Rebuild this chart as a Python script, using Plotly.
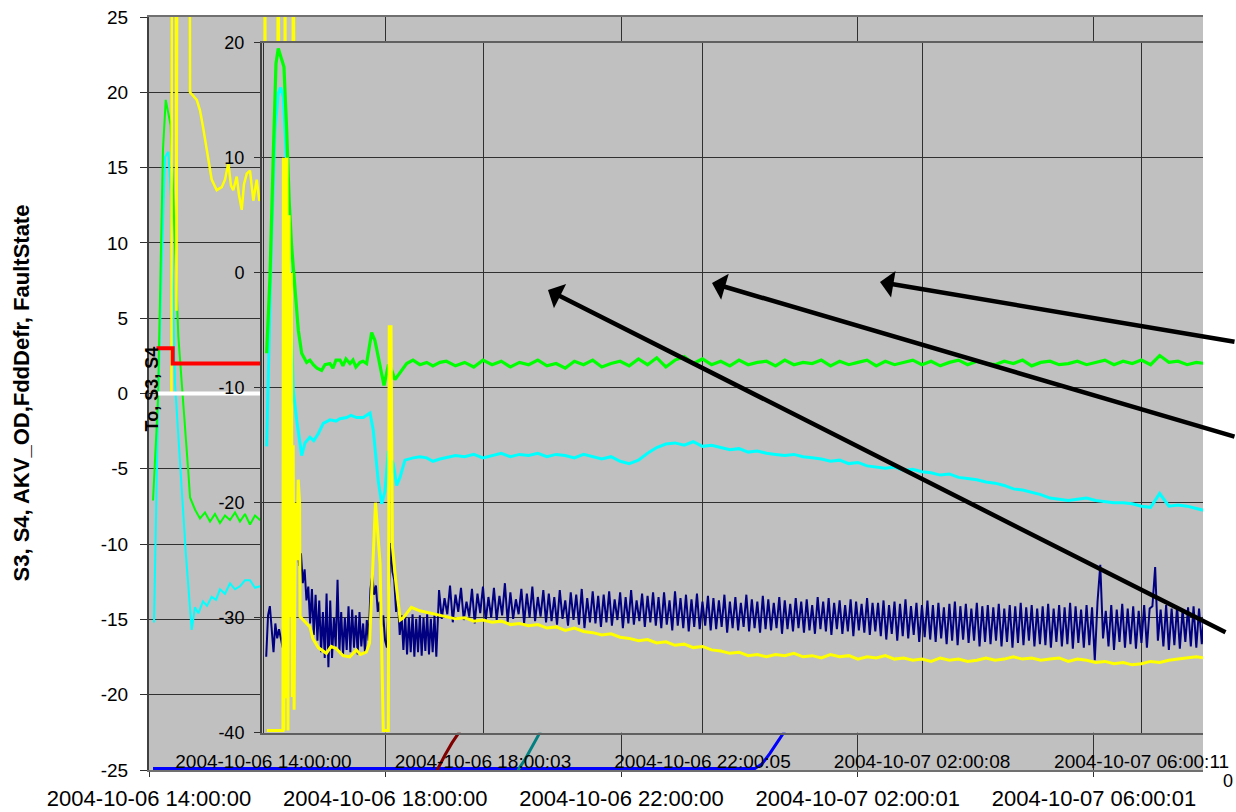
import pandas as pd
import plotly.graph_objects as go

BASE = pd.Timestamp("2004-10-06 14:00:00")


def at(minutes):
    return [BASE + pd.Timedelta(minutes=float(m)) for m in minutes]


# ---------------- outer chart (S3, S4, AKV_OD, FddDefr, FaultState) ----------------
outer_x_tick_min = [0, 240, 480, 720.0167, 960.0167]
outer_x_tick_labels = ["2004-10-06 14:00:00", "2004-10-06 18:00:00", "2004-10-06 22:00:00",
                       "2004-10-07 02:00:01", "2004-10-07 06:00:01"]
outer_y_ticks = [-25, -20, -15, -10, -5, 0, 5, 10, 15, 20, 25]

outer_green_min = [4.1, 9.1, 14.2, 17.0, 22.0, 28.1, 29.8, 39.6, 41.7, 46.7, 51.8, 56.9, 62.0, 67.0,
                   72.1, 77.2, 82.3, 87.4, 92.4, 97.5, 102.6, 107.7, 112.8, 117.8]
outer_green = [-7.1, -0.4, 16.2, 19.5, 17.8, 6.2, 3.8, -4.9, -6.9, -7.7, -8.3, -7.9, -8.5, -8.0,
               -8.6, -8.1, -8.4, -7.9, -8.5, -8.0, -8.7, -8.1, -8.4, -8.2]

outer_cyan_min = [5.1, 9.4, 13.2, 16.3, 19.6, 22.4, 26.4, 31.5, 37.6, 43.4, 46.7, 50.1, 54.9, 58.9,
                  63.7, 68.1, 72.1, 77.2, 82.3, 87.4, 92.4, 97.5, 102.6, 107.7, 112.8, 117.8]
outer_cyan = [-15.2, -0.4, 9.0, 15.7, 16.05, 13.0, 0.7, -4.9, -10.8, -15.7, -14.2, -14.6, -13.8, -14.1,
              -13.5, -13.7, -13.0, -13.3, -12.6, -13.0, -12.8, -12.4, -12.4, -12.9, -12.8, -12.6]

outer_yellow_min = [9.4, 22.8, 23.4, 26.9, 27.9, 29.0, 41.1, 41.7, 48.5, 51.8, 54.9, 59.9, 63.7, 68.8,
                    73.9, 77.2, 80.6, 83.3, 85.6, 89.1, 91.4, 94.2, 96.5, 99.3, 102.6, 106.0, 109.4,
                    112.1, 114.8, 117.3, 117.8, 118.4, 130.5, 131.0, 132.6, 137.7, 138.2, 138.8,
                    145.9, 146.4, 147.9, 153.4]
outer_yellow = [0, 0, 40, 40, 5.5, 40, 40, 20.0, 19.5, 18.8, 17.7, 15.7, 14.2, 13.5,
                13.7, 14.2, 15.3, 13.8, 13.5, 14.4, 13.2, 12.2, 13.9, 14.6, 14.8, 12.8, 14.2,
                12.8, 13.3, 13.2, 40, 13, 13, 40, 13, 13, 40, 13,
                13, 40, 13, 13]

outer_red_min = [7.6, 24.1, 117.8]
outer_red = [3, 2, 2]

outer_white_min = [9.1, 117.8]
outer_white = [0, 0]

outer_blue_min = [4.1, 615.6, 622.7, 630.8, 638.9, 646.1, 661.3]
outer_blue = [-24.9, -24.9, -24.6, -23.9, -23.1, -22.4, -20.6]

outer_darkred_min = [280.4, 293.6, 300.7, 307.8, 316.0, 326.1]
outer_darkred = [-27.0, -24.9, -24.0, -23.2, -22.4, -21.3]

outer_teal_min = [361.7, 375.9, 382.0, 389.1, 397.2, 407.4]
outer_teal = [-27.0, -24.9, -24.3, -23.5, -22.5, -21.3]

# ---------------- inner chart (To, S3, S4) ----------------
inner_x_tick_min = [0, 240.05, 480.0833, 720.1333, 960.1833]
inner_x_tick_labels = ["2004-10-06 14:00:00", "2004-10-06 18:00:03", "2004-10-06 22:00:05",
                       "2004-10-07 02:00:08", "2004-10-07 06:00:11"]
inner_y_ticks = [-40, -30, -20, -10, 0, 10, 20]

inner_green_min_early = [3.5, 7.1, 10.7, 13.7, 16.2, 19.9, 22.4, 25.4, 28.2, 30.8, 34.4, 38.1, 41.8,
                         47.2, 50.8, 54.5, 58.5, 63.6, 67.3, 72.7, 76.0, 79.3, 83.7, 86.9, 90.2, 94.6,
                         97.9, 101.1, 105.5, 108.8, 112.8, 118.3, 121.9, 127.4, 131.8, 136.7, 139.4,
                         143.8, 149.3, 156.6, 163.5, 171.1, 178.5, 185.3, 193.0]
inner_green_early = [-7.0, -0.4, 10.1, 18.2, 19.5, 18.5, 17.9, 12.4, 6.1, 2.3, -1.5, -5.0, -7.0,
                     -7.8, -7.6, -8.0, -8.3, -8.5, -8.0, -7.9, -8.3, -7.6, -7.6, -8.1, -7.5, -7.9,
                     -7.6, -8.2, -7.8, -7.7, -7.9, -5.2, -5.9, -7.9, -9.8, -8.0, -8.3,
                     -9.3, -8.7, -7.9, -7.6, -8.0, -7.8, -8.1, -7.8]

inner_cyan_min_early = [3.5, 5.2, 8.5, 12.6, 16.2, 18.8, 21.7, 24.6, 28.5, 32.6, 36.3, 41.8, 45.4,
                        50.8, 55.0, 59.9, 65.4, 72.7, 79.3, 83.7, 91.0, 95.7, 101.9, 109.1, 116.5,
                        120.1, 125.5, 129.3, 132.9, 136.5, 141.9, 145.7, 149.3, 154.7, 163.8, 171.1,
                        178.5, 185.3, 193.0]
inner_cyan_early = [-15.1, -9.3, 2.0, 12.4, 15.6, 16.1, 15.3, 10.9, 0.0, -10.2, -12.8, -15.9, -14.8,
                    -14.3, -14.6, -14.0, -13.1, -12.8, -12.9, -12.7, -12.6, -12.4, -12.6, -12.6, -12.2,
                    -13.7, -18.1, -20.1, -19.0, -15.5, -16.6, -18.5, -17.8, -16.3, -16.1, -16.0,
                    -16.1, -16.4, -16.2]

inner_yellow_min_early = [3.8, 21.3, 21.8, 22.4, 23.5, 24.6, 25.7, 26.8, 28.0, 29.0, 30.5, 31.5, 32.5,
                          33.5, 35.0, 36.5, 38.0, 39.5, 40.0, 45.0, 50.8, 54.0, 59.9, 68.8, 74.0,
                          79.7, 86.9, 94.4, 101.5, 106.0, 112.4, 116.0, 122.5, 127.5, 131.0, 136.5,
                          137.5, 139.5, 141.0, 144.5, 149.5, 153.0, 161.7, 171.0, 182.0, 193.0]
inner_yellow_early = [-39.8, -39.8, 10.0, -39.8, 10.0, -37.0, 10.0, -39.8, 5.0, -30.0, 0.0, -36.9,
                      -15.0, -38.0, -20.0, -25.0, -18.0, -20.0, -29.9, -30.3, -30.8, -31.8, -32.6,
                      -33.1, -32.5, -32.7, -33.3, -33.4, -32.8, -33.2, -33.0, -32.2, -20.0, -25.3,
                      -39.8, -39.8, -4.7, -4.7, -23.8, -26.7, -30.2, -30.0, -29.1, -29.4, -29.6, -29.8]

# 10-minute samples from 17:20 onwards
inner_grid_min = list(range(200, 1031, 10))
inner_green_late = [
    -7.7, -8.1, -7.8, -8.2, -7.6, -8.0, -7.7, -8.2, -7.8, -8.0,
    -7.6, -8.1, -7.9, -8.3, -7.7, -8.0, -7.6, -8.2, -7.9, -7.7,
    -8.1, -7.5, -8.0, -7.4, -8.2, -7.6, -7.3, -7.9, -7.5, -8.0,
    -7.7, -8.1, -7.6, -8.0, -7.8, -7.7, -8.1, -7.6, -8.0, -7.8,
    -7.9, -7.6, -8.1, -7.7, -8.0, -7.8, -7.6, -8.1, -7.7, -8.0,
    -7.8, -7.6, -8.0, -7.7, -8.1, -7.8, -7.6, -8.0, -7.7, -7.9,
    -8.0, -7.7, -7.9, -7.6, -8.1, -7.8, -7.7, -8.0, -7.9, -7.7,
    -8.0, -7.8, -7.6, -8.0, -7.7, -7.9, -7.6, -8.0, -7.2, -7.8,
    -7.7, -8.0, -7.8, -7.9]
inner_cyan_late = [
    -16.1, -15.9, -16.0, -15.8, -16.1, -15.9, -15.7, -16.0, -15.8, -15.9,
    -15.7, -16.0, -15.8, -15.9, -16.1, -15.8, -16.0, -16.2, -16.0, -16.4,
    -16.6, -16.3, -15.7, -15.2, -14.9, -14.8, -15.0, -14.7, -15.1, -15.0,
    -15.2, -15.4, -15.3, -15.6, -15.5, -15.7, -15.8, -15.9, -15.8, -16.0,
    -16.1, -16.2, -16.4, -16.3, -16.6, -16.5, -16.8, -16.9, -17.0, -16.9,
    -17.2, -17.1, -17.3, -17.4, -17.6, -17.5, -17.8, -17.9, -18.0, -18.2,
    -18.3, -18.5, -18.8, -18.9, -19.1, -19.3, -19.6, -19.7, -19.8, -19.7,
    -19.6, -19.8, -19.9, -20.0, -20.0, -20.1, -20.3, -20.4, -19.2, -20.3,
    -20.2, -20.3, -20.5, -20.7]
inner_yellow_late = [
    -29.9, -30.1, -30.0, -30.3, -30.2, -30.4, -30.3, -30.6, -30.5, -30.7,
    -30.6, -30.9, -30.8, -31.1, -30.9, -31.2, -31.3, -31.5, -31.4, -31.7,
    -31.8, -32.0, -31.9, -32.2, -32.1, -32.4, -32.3, -32.6, -32.5, -32.8,
    -32.9, -33.1, -33.0, -33.3, -33.2, -33.4, -33.2, -33.3, -33.1, -33.4,
    -33.3, -33.5, -33.2, -33.4, -33.3, -33.6, -33.4, -33.5, -33.3, -33.6,
    -33.5, -33.7, -33.6, -33.8, -33.5, -33.7, -33.6, -33.8, -33.7, -33.5,
    -33.7, -33.6, -33.4, -33.6, -33.5, -33.7, -33.6, -33.5, -33.8, -33.6,
    -33.7, -33.9, -33.8, -34.0, -33.9, -34.1, -34.0, -33.8, -33.9, -33.7,
    -33.6, -33.5, -33.4, -33.5]

# navy series: 2-minute samples (14:03 .. 17:11), then 3-minute samples (17:12 ..)
navy_min_early = list(range(3, 192, 2))
navy_early = [
    -33.4, -29.8, -29.0, -31.5, -33.0, -30.5, -31.8, -31.0, -32.0, -32.6,
    -22.0, -26.0, -19.0, -18.0, -21.0, -21.5, -23.5, -23.0, -25.5, -24.4,
    -27.0, -25.8, -28.5, -27.3, -30.5, -27.5, -31.5, -28.0, -32.0, -28.5,
    -33.0, -29.5, -33.5, -27.9, -34.3, -28.5, -33.5, -30.0, -32.5, -26.7,
    -33.0, -29.5, -33.2, -30.0, -32.8, -29.0, -33.0, -29.3, -32.6, -29.8,
    -33.2, -29.5, -32.5, -30.5, -33.0, -30.2, -32.0, -27.5, -26.3, -28.0,
    -27.2, -29.5, -28.6, -30.8, -29.8, -32.0, -32.6, -27.0, -23.5, -26.0,
    -26.7, -29.5, -28.3, -31.5, -29.8, -32.8, -29.9, -33.2, -30.0, -33.0,
    -29.7, -33.4, -30.1, -33.0, -29.8, -33.3, -30.0, -32.9, -29.7, -33.2,
    -30.1, -33.0, -29.8, -33.4, -30.0]
navy_min_late = list(range(192, 1030, 3))
navy_late = [
    -27.6, -30.1, -28.3, -29.7, -27.2, -30.4, -28.0, -29.5, -27.4, -30.2, -28.6, -29.9, -27.5, -30.5, -27.9, -29.6, -27.3, -30.3, -28.2, -30.0,
    -27.4, -30.2, -28.1, -29.8, -27.0, -30.4, -27.8, -30.1, -28.4, -29.7, -27.5, -30.5, -27.9, -30.0, -27.3, -30.3, -28.2, -29.9, -27.6, -30.4,
    -27.9, -30.3, -28.2, -30.6, -27.6, -30.1, -28.5, -30.7, -27.8, -30.2, -28.0, -30.6, -27.5, -30.9, -28.3, -30.4, -27.7, -30.5, -28.1, -30.8,
    -28.0, -30.4, -27.7, -30.7, -28.4, -30.2, -27.8, -30.9, -28.2, -30.5, -27.6, -30.6, -28.5, -30.3, -27.9, -30.8, -28.1, -30.4, -27.8, -30.7,
    -28.2, -30.9, -27.8, -30.6, -28.5, -31.1, -27.7, -30.7, -28.3, -30.9, -28.0, -31.2, -28.4, -30.8, -27.9, -31.0, -28.6, -30.7, -28.1, -31.1,
    -28.3, -31.0, -28.5, -30.8, -28.0, -31.3, -28.6, -30.9, -28.2, -31.1, -28.7, -30.8, -28.0, -31.2, -28.4, -30.9, -28.6, -31.3, -28.1, -31.0,
    -28.4, -31.1, -28.7, -30.9, -28.2, -31.4, -28.5, -31.0, -28.8, -31.2, -28.3, -30.9, -28.6, -31.3, -28.4, -31.1, -28.9, -31.4, -28.2, -31.0,
    -28.6, -31.2, -28.3, -31.5, -28.7, -31.0, -28.5, -31.4, -28.9, -31.2, -28.4, -31.6, -28.6, -31.1, -28.8, -31.3, -28.3, -31.5, -28.7, -31.2,
    -28.7, -31.6, -28.5, -31.9, -28.9, -31.4, -28.6, -32.0, -28.8, -31.6, -28.4, -31.8, -29.0, -31.5, -28.7, -32.1, -28.9, -31.7, -28.5, -31.9,
    -28.9, -32.1, -28.7, -31.8, -29.1, -32.3, -28.8, -32.0, -28.6, -32.4, -29.0, -31.9, -28.8, -32.2, -29.2, -32.0, -28.7, -32.5, -29.0, -32.1,
    -28.9, -32.3, -29.1, -32.0, -28.8, -32.5, -29.2, -32.1, -28.9, -32.6, -29.0, -32.2, -28.7, -32.4, -29.1, -32.0, -28.9, -32.5, -29.2, -32.3,
    -29.0, -32.4, -28.8, -32.6, -29.2, -32.1, -28.9, -32.5, -29.1, -32.3, -28.7, -32.7, -29.0, -32.2, -29.3, -32.6, -28.9, -32.4, -29.1, -33.7,
    -28.6, -25.4, -31.8, -29.4, -32.5, -28.9, -32.8, -29.3, -32.1, -28.8, -32.6, -29.2, -32.3, -29.0, -32.7, -29.4, -32.2, -28.9, -32.6, -29.2,
    -29.0, -25.6, -32.0, -29.3, -32.5, -28.9, -32.8, -29.2, -32.4, -29.0, -32.7, -29.3, -32.1, -29.1, -32.5, -29.0, -32.6, -29.2, -32.3, -29.1]

FONT = "Liberation Sans, Arial, sans-serif"
GRID = "#303030"

fig = go.Figure()


def outer(mins, vals, color, width, shape="linear"):
    fig.add_trace(go.Scatter(x=at(mins), y=vals, mode="lines", xaxis="x", yaxis="y",
                             line=dict(color=color, width=width, shape=shape),
                             hoverinfo="skip", showlegend=False))


def inner(mins, vals, color, width):
    fig.add_trace(go.Scatter(x=at(mins), y=vals, mode="lines", xaxis="x2", yaxis="y2",
                             line=dict(color=color, width=width),
                             hoverinfo="skip", showlegend=False))


# outer series
outer(outer_blue_min, outer_blue, "#0000FF", 3)
outer(outer_darkred_min, outer_darkred, "#800000", 3)
outer(outer_teal_min, outer_teal, "#008080", 3)
outer(outer_cyan_min, outer_cyan, "#00FFFF", 2)
outer(outer_green_min, outer_green, "#00FF00", 2)
outer(outer_yellow_min, outer_yellow, "#FFFF00", 2.5)
outer(outer_white_min, outer_white, "#FFFFFF", 4)
outer(outer_red_min, outer_red, "#FF0000", 4, shape="hv")

# inner series
inner(navy_min_early + navy_min_late, navy_early + navy_late, "#000080", 2)
inner(inner_cyan_min_early + inner_grid_min, inner_cyan_early + inner_cyan_late, "#00FFFF", 3)
inner(inner_green_min_early + inner_grid_min, inner_green_early + inner_green_late, "#00FF00", 3.2)
inner(inner_yellow_min_early + inner_grid_min, inner_yellow_early + inner_yellow_late, "#FFFF00", 3)

W, H = 1236, 812

fig.update_layout(
    template="none",
    width=W, height=H,
    margin=dict(l=0, r=0, t=0, b=0, pad=0, autoexpand=False),
    paper_bgcolor="white",
    plot_bgcolor="#C0C0C0",
    showlegend=False,
    font=dict(family=FONT, color="black"),
    xaxis=dict(
        domain=[149 / W, 1203 / W], anchor="y", type="date", automargin=False,
        range=[BASE, BASE + pd.Timedelta(hours=17.846)],
        tickvals=at(outer_x_tick_min), ticktext=outer_x_tick_labels,
        tickfont=dict(size=22, family=FONT), ticks="outside", ticklen=5, tickcolor=GRID,
        ticklabelstandoff=3,
        showgrid=True, gridcolor=GRID, gridwidth=1, zeroline=False,
        showline=True, linecolor="#707070", linewidth=2, mirror=True,
    ),
    yaxis=dict(
        domain=[(H - 770) / H, (H - 17) / H], anchor="x", automargin=False,
        range=[-25, 25], tickvals=outer_y_ticks, ticktext=[str(v) for v in outer_y_ticks],
        tickfont=dict(size=19, family=FONT), ticks="outside", ticklen=7, tickcolor=GRID,
        ticklabelstandoff=8,
        showgrid=True, gridcolor=GRID, gridwidth=1, zeroline=False,
        showline=True, linecolor="#404040", linewidth=2,
    ),
    xaxis2=dict(
        domain=[262 / W, 1203 / W], anchor="y2", type="date", automargin=False,
        range=[BASE - pd.Timedelta(minutes=1.6), BASE + pd.Timedelta(hours=17.122)],
        tickvals=at(inner_x_tick_min), ticktext=inner_x_tick_labels,
        tickfont=dict(size=19, family=FONT), ticks="", ticklabelstandoff=10,
        showgrid=True, gridcolor=GRID, gridwidth=1, zeroline=False,
        showline=True, linecolor="#606060", linewidth=2, mirror=True,
    ),
    yaxis2=dict(
        domain=[(H - 732.7) / H, (H - 42.7) / H], anchor="x2", automargin=False,
        range=[-40, 20], tickvals=inner_y_ticks, ticktext=[str(v) for v in inner_y_ticks],
        tickfont=dict(size=18, family=FONT), ticks="outside", ticklen=6, tickcolor=GRID,
        ticklabelstandoff=6,
        showgrid=True, gridcolor=GRID, gridwidth=1, zeroline=False,
        showline=True, linecolor="#404040", linewidth=2,
    ),
)

annotations = [
    dict(text="<b>S3, S4, AKV_OD,FddDefr, FaultState</b>", textangle=-90,
         x=21 / W, y=(H - 393.5) / H, xref="paper", yref="paper",
         xanchor="center", yanchor="middle", showarrow=False,
         font=dict(size=22, family=FONT, color="black")),
    dict(text="<b>To, S3, S4</b>", textangle=-90,
         x=151.5 / W, y=(H - 389) / H, xref="paper", yref="paper",
         xanchor="center", yanchor="middle", showarrow=False,
         font=dict(size=18, family=FONT, color="black")),
    dict(text="0", x=1234 / W, y=(H - 781) / H, xref="paper", yref="paper",
         xanchor="right", yanchor="middle", showarrow=False, borderpad=0,
         font=dict(size=18, family=FONT, color="black")),
]
for hx, hy, ax, ay in [(880, 282, 356, 60), (712, 283, 524, 154), (548, 290, 679, 343)]:
    annotations.append(dict(
        text="", x=hx / W, y=(H - hy) / H, xref="paper", yref="paper",
        showarrow=True, ax=ax, ay=ay, arrowhead=1, arrowsize=1, arrowwidth=4.5,
        arrowcolor="black", standoff=0, startstandoff=0))
fig.update_layout(annotations=annotations)

fig.write_html("out.html")
